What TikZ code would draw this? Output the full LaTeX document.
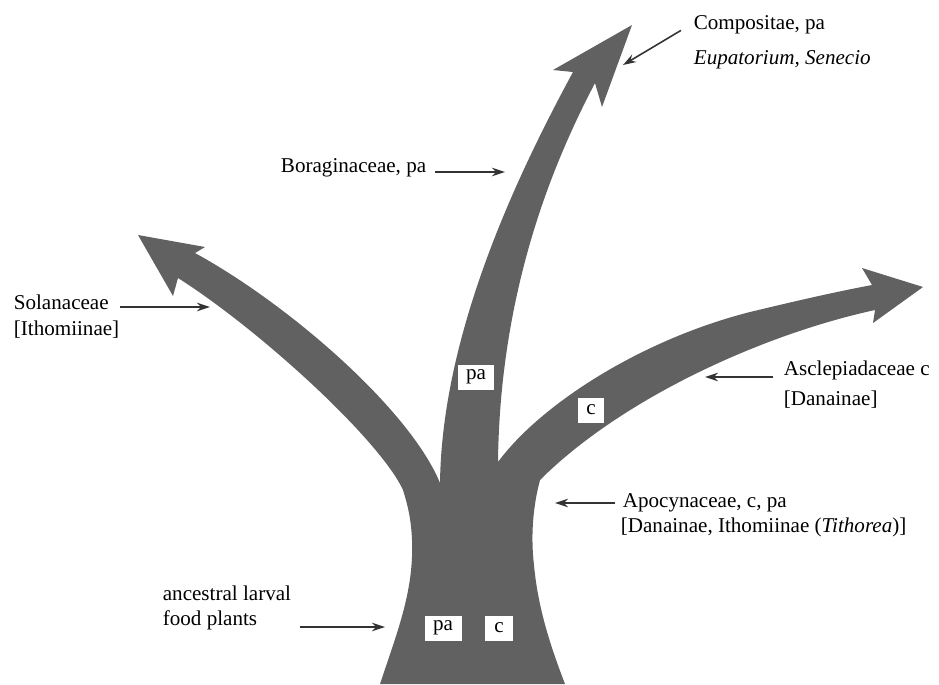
\documentclass[tikz,border=0pt]{standalone}
\usepackage{fontspec}
\setmainfont{Liberation Serif}
\usetikzlibrary{arrows.meta}

\begin{document}
\begin{tikzpicture}[
  x=0.02cm, y=-0.02cm,
  every node/.style={font=\fontsize{12}{14}\selectfont, inner sep=2pt},
  lbl/.style ={anchor=west},
  stem/.style={fill=black!62},
  tag/.style ={fill=white, inner sep=0pt, minimum height=0.5cm},
  ptr/.style ={-{Stealth[length=2.6mm,width=1.7mm]}, line width=0.9pt, black!80},
]
\useasboundingbox (0,0) rectangle (939,684);

% trunk with three branches
\fill[stem] (380,684) .. controls (398,630) and (414,590) .. (412,540)
  .. controls (411,515) and (406,500) .. (403,490)
  .. controls (380,440) and (260,330) .. (178,278)
  -- (173,296) -- (138,235) -- (205,247) -- (195,253)
  .. controls (290,305) and (410,410) .. (440,483)
  .. controls (442,330) and (520,170) .. (573,72)
  -- (553,70) -- (632,25) -- (602,107) -- (595,83)
  .. controls (560,150) and (500,280) .. (498,462)
  .. controls (540,405) and (640,340) .. (750,312)
  .. controls (800,300) and (835,292) .. (872,285)
  -- (862,268) -- (923,287) -- (873,323) -- (875,310)
  .. controls (760,335) and (620,400) .. (540,480)
  .. controls (532,510) and (531,540) .. (534,565)
  .. controls (538,610) and (552,650) .. (565,684)
  -- cycle;

\node[tag, minimum width=0.72cm] (pamid) at (476,377) {pa};
\node[tag, minimum width=0.52cm] (cright) at (591,410) {c};
\node[tag, minimum width=0.74cm] (pabase) at (443,628) {pa};
\node[tag, minimum width=0.56cm] (cbase) at (499,628) {c};

\node[lbl] (comp1) at (690,25) {Compositae, pa};
\node[lbl] (comp2) at (690,60) {\textit{Eupatorium, Senecio}};
\node[lbl, anchor=east] (bor) at (430,168) {Boraginaceae, pa};
\node[lbl] (sol1) at (10,302) {Solanaceae};
\node[lbl] (sol2) at (10,330) {[Ithomiinae]};
\node[lbl] (asc1) at (780,370) {Asclepiadaceae c};
\node[lbl] (asc2) at (780,400) {[Danainae]};
\node[lbl] (apo1) at (619,503) {Apocynaceae, c, pa};
\node[lbl] (apo2) at (617,527) {[Danainae, Ithomiinae (\textit{Tithorea})]};
\node[lbl] (anc1) at (159,593) {ancestral larval};
\node[lbl] (anc2) at (159,620) {food plants};

\coordinate (comptip) at (623,65);
\coordinate (bortip) at (505,172);
\coordinate (soltip) at (210,307);
\coordinate (asctip) at (705,377);
\coordinate (apotip) at (555,503);
\coordinate (anctip) at (385,627);

\draw[ptr, shorten <=6pt] (comp1.west) -- (comptip);
\draw[ptr, shorten <=3pt] (bor.east |- bortip) -- (bortip);
\draw[ptr, shorten <=4pt] (sol1.east |- soltip) -- (soltip);
\draw[ptr, shorten <=4pt] (asc1.west |- asctip) -- (asctip);
\draw[ptr, shorten <=2pt] (apo1.west |- apotip) -- (apotip);
\draw[ptr, shorten <=22pt] (anc2.east |- anctip) -- (anctip);

\end{tikzpicture}
\end{document}
